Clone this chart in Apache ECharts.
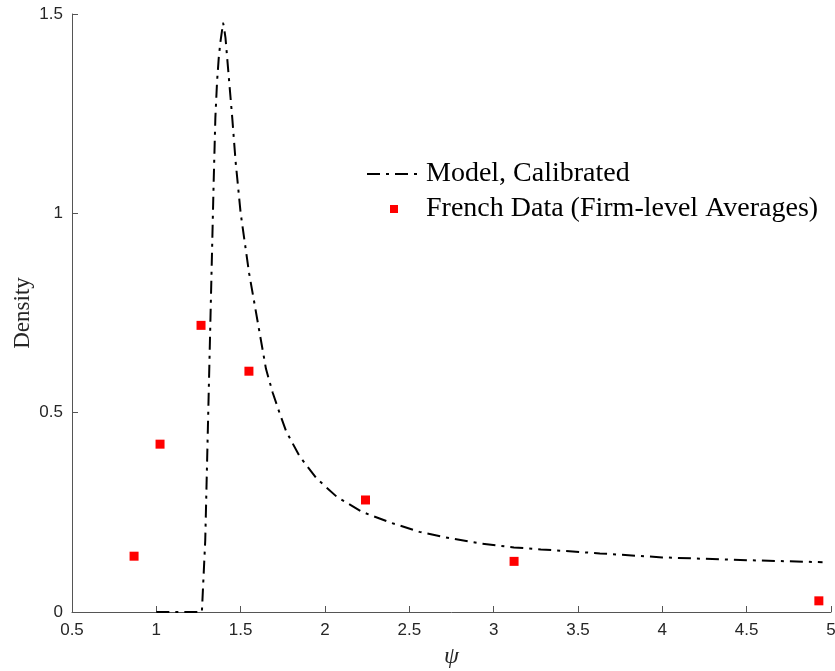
<!DOCTYPE html>
<html>
<head>
<meta charset="utf-8">
<script src="https://cdn.jsdelivr.net/npm/echarts@6/dist/echarts.min.js"></script>
<style>
html,body{margin:0;padding:0;background:#fff;}
#chart{width:835px;height:671px;}
</style>
</head>
<body>
<div id="chart"></div>
<script>
// Model curve (psi, density)
const modelX = [1.0, 1.1, 1.2, 1.27, 1.278, 1.29, 1.30, 1.31, 1.32, 1.33, 1.34, 1.35, 1.36, 1.37, 1.38, 1.39, 1.395, 1.40, 1.41, 1.42, 1.43, 1.45, 1.47, 1.50, 1.55, 1.60, 1.65, 1.69, 1.73, 1.77, 1.85, 1.95, 2.07, 2.22, 2.39, 2.56, 2.74, 2.92, 3.12, 3.28, 3.63, 4.0, 4.5, 4.95];
const modelY = [0, 0, 0, 0, 0, 0.18, 0.36, 0.54, 0.72, 0.90, 1.08, 1.24, 1.33, 1.39, 1.43, 1.46, 1.478, 1.47, 1.44, 1.39, 1.34, 1.24, 1.13, 1.00, 0.85, 0.73, 0.61, 0.55, 0.50, 0.453, 0.39, 0.335, 0.289, 0.251, 0.224, 0.201, 0.185, 0.172, 0.162, 0.157, 0.147, 0.137, 0.130, 0.125];
// French data (firm-level averages)
const dataX = [0.868, 1.022, 1.265, 1.549, 2.240, 3.121, 4.928];
const dataY = [0.140, 0.421, 0.719, 0.604, 0.281, 0.127, 0.028];
const xTicks = [0.5, 1, 1.5, 2, 2.5, 3, 3.5, 4, 4.5, 5];
const yTicks = [0, 0.5, 1, 1.5];
const seriesNames = ['Model, Calibrated', 'French Data (Firm-level Averages)'];

const chart = echarts.init(document.getElementById('chart'));
const axisCol = '#555555';
const labelCol = '#262626';
chart.setOption({
  animation: false,
  backgroundColor: '#ffffff',
  grid: {left: 72, right: 4, top: 14, bottom: 59, containLabel: false, outerBoundsMode: 'none'},
  legend: {
    orient: 'vertical',
    left: 361,
    top: 153,
    itemWidth: 54,
    itemHeight: 8,
    itemGap: 3,
    data: [
      {name: seriesNames[0], itemStyle: {color: 'rgba(0,0,0,0)', borderWidth: 0, opacity: 0}},
      {name: seriesNames[1], icon: 'path://M0,0 L1,0 L1,1 L0,1 Z'}
    ],
    textStyle: {fontFamily: 'Liberation Serif', fontSize: 28, color: '#000', lineHeight: 32}
  },
  xAxis: {
    type: 'value', min: xTicks[0], max: xTicks[xTicks.length - 1], interval: 0.5,
    name: 'ψ', nameLocation: 'middle', nameGap: 33,
    nameTextStyle: {fontFamily: 'Liberation Serif', fontStyle: 'italic', fontSize: 24, color: labelCol},
    axisLine: {lineStyle: {color: axisCol, width: 1}},
    axisTick: {inside: true, length: 6, lineStyle: {color: axisCol}},
    axisLabel: {fontFamily: 'Liberation Sans', fontSize: 17, color: labelCol, margin: 10,
      formatter: v => String(v)},
    splitLine: {show: false}
  },
  yAxis: {
    type: 'value', min: yTicks[0], max: yTicks[yTicks.length - 1], interval: 0.5,
    name: 'Density', nameLocation: 'middle', nameGap: 38, nameMoveOverlap: false,
    nameTextStyle: {fontFamily: 'Liberation Serif', fontSize: 23, color: labelCol},
    axisLine: {show: true, lineStyle: {color: axisCol, width: 1}},
    axisTick: {show: true, inside: true, length: 6, lineStyle: {color: axisCol}},
    axisLabel: {fontFamily: 'Liberation Sans', fontSize: 17, color: labelCol, margin: 9,
      formatter: v => String(v)},
    splitLine: {show: false}
  },
  series: [
    {
      name: seriesNames[0], type: 'line', symbol: 'none', smooth: false,
      data: modelX.map((x, i) => [x, modelY[i]]),
      lineStyle: {color: '#000', width: 2, type: [13, 6, 3, 6]},
      itemStyle: {color: '#000'}
    },
    {
      name: seriesNames[1], type: 'scatter', symbol: 'rect', symbolSize: 9,
      data: dataX.map((x, i) => [x, dataY[i]]),
      itemStyle: {color: '#ff0000', opacity: 1}
    }
  ]
});
</script>
</body>
</html>
